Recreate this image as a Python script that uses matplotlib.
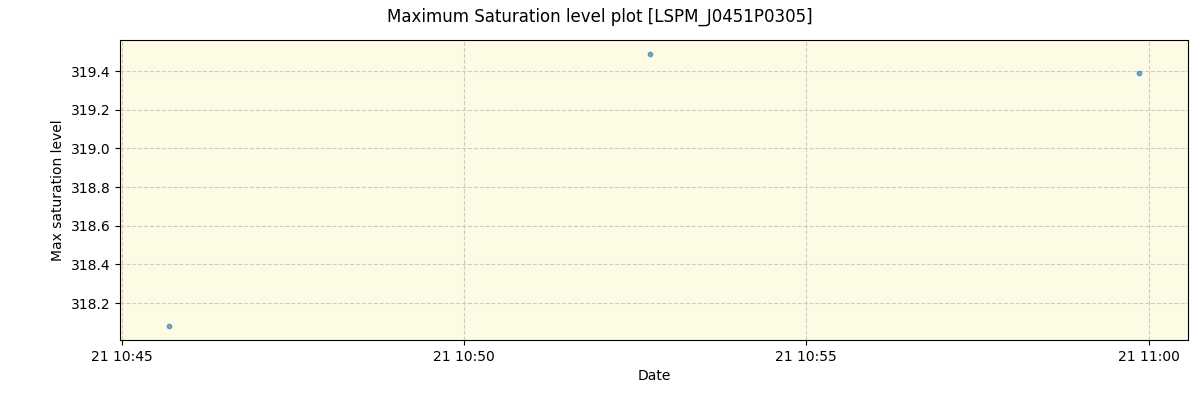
import pandas as pd
import matplotlib
matplotlib.use("Agg")
import matplotlib.pyplot as plt
import matplotlib.dates as mdates

# observation times and max saturation values
times = ["2020-01-21 10:45:41", "2020-01-21 10:52:43", "2020-01-21 10:59:52"]
saturation = [318.08, 319.49, 319.39]

dates = pd.to_datetime(times)

fig, ax = plt.subplots(figsize=(12, 4), dpi=100)
fig.subplots_adjust(left=0.1, right=0.99, top=0.9, bottom=0.15)
ax.set_facecolor("#fdfbe3")
ax.scatter(dates, saturation, s=10, color="#1f77b4", alpha=0.6, zorder=3)
ax.grid(True, linestyle="--", color="#cccccc")
ax.set_xlabel("Date")
ax.set_ylabel("Max saturation level")
ax.xaxis.set_major_locator(mdates.MinuteLocator(byminute=range(0, 60, 5)))
ax.xaxis.set_major_formatter(mdates.DateFormatter("%d %H:%M"))
fig.suptitle("Maximum Saturation level plot [LSPM_J0451P0305]")
plt.savefig("out.png")
plt.close()
